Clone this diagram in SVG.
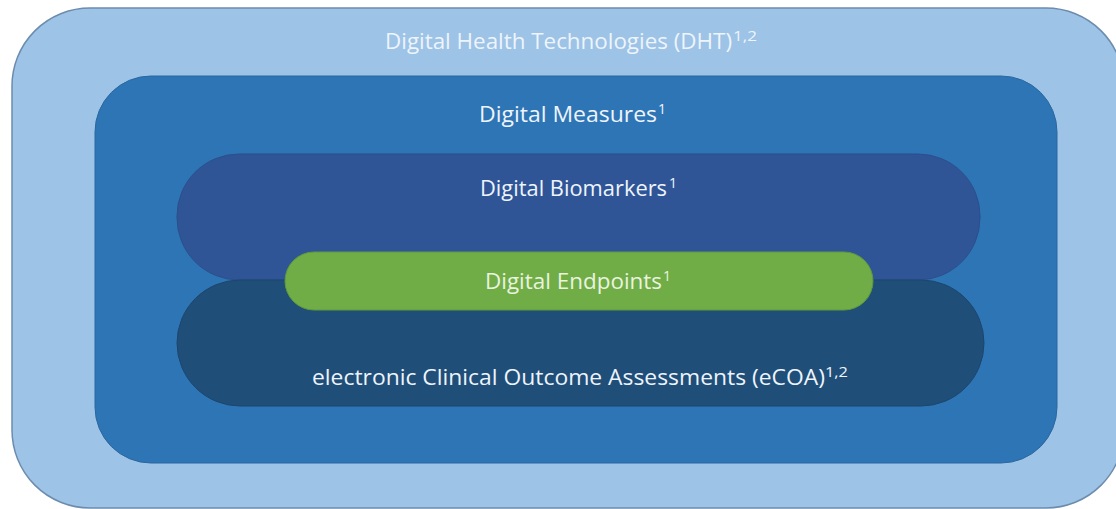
<svg xmlns="http://www.w3.org/2000/svg" width="1116" height="509" viewBox="0 0 1116 509">
<style>
  .lbl { font-family: "Open Sans", "Liberation Sans", sans-serif; font-size: 22px; fill: #EEF4FB; }
  .sup { font-family: "Open Sans", "Liberation Sans", sans-serif; font-size: 14px; fill: #EEF4FB; }
  .g { fill: #EAF3DF; }
</style>
<rect width="1116" height="509" fill="#FFFFFF"/>
<g id="dht">
  <rect x="12" y="8" width="1112" height="500" rx="78" ry="78" fill="#9DC3E6" stroke="#6C8CAE" stroke-width="1.5"/>
  <text class="lbl" x="385" y="49" textLength="347" lengthAdjust="spacingAndGlyphs">Digital Health Technologies (DHT)</text>
  <text class="sup" x="733" y="41" textLength="24" lengthAdjust="spacingAndGlyphs">1,2</text>
</g>
<g id="measures">
  <rect x="95" y="76" width="962" height="387" rx="56" ry="56" fill="#2E75B6" stroke="#2A67A0" stroke-width="1"/>
  <text class="lbl" x="479" y="122" textLength="178" lengthAdjust="spacingAndGlyphs">Digital Measures</text>
  <text class="sup" x="658" y="114">1</text>
</g>
<g id="biomarkers">
  <rect x="177" y="154" width="803" height="126" rx="62" ry="62" fill="#2F5597" stroke="#2B4F8A" stroke-width="1"/>
  <text class="lbl" x="480" y="196" textLength="187" lengthAdjust="spacingAndGlyphs">Digital Biomarkers</text>
  <text class="sup" x="669" y="188">1</text>
</g>
<g id="ecoa">
  <rect x="177" y="280" width="807" height="126" rx="63" ry="63" fill="#1F4E79" stroke="#1C466D" stroke-width="1"/>
  <text class="lbl" x="312" y="385" textLength="513" lengthAdjust="spacingAndGlyphs">electronic Clinical Outcome Assessments (eCOA)</text>
  <text class="sup" x="825" y="377" textLength="23" lengthAdjust="spacingAndGlyphs">1,2</text>
</g>
<g id="endpoints">
  <rect x="285" y="252" width="588" height="58" rx="29" ry="29" fill="#70AD47" stroke="#5E9A3A" stroke-width="1"/>
  <text class="lbl g" x="485" y="289" textLength="177" lengthAdjust="spacingAndGlyphs">Digital Endpoints</text>
  <text class="sup g" x="663" y="281">1</text>
</g>
<g id="connectors"/>
</svg>
